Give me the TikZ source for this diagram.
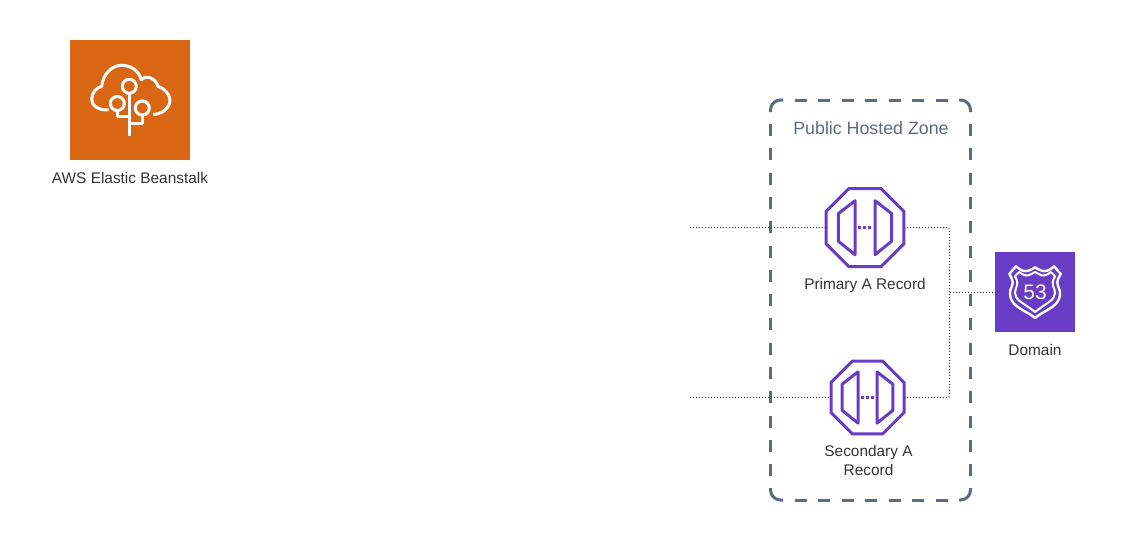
\documentclass[tikz,border=0pt]{standalone}
\usepackage{fontspec}
\setmainfont{Liberation Sans}
\usetikzlibrary{shapes.geometric}

\definecolor{beanorange}{HTML}{D86613}
\definecolor{routepurple}{HTML}{693CC5}
\definecolor{zoneslate}{HTML}{5A6B86}
\definecolor{labelgrey}{HTML}{333333}

\tikzset{
  iconbox/.style={rectangle,inner sep=0pt,outer sep=0pt,minimum size=#1},
  recordgon/.style={regular polygon,regular polygon sides=8,draw=routepurple,line width=3pt,
    inner sep=0pt,outer sep=0pt,minimum size=#1},
  zoneline/.style={draw=zoneslate,line width=3pt},
  caption/.style={text=labelgrey,font=\fontsize{15.4}{19}\selectfont,align=center,inner sep=0pt},
  dotline/.style={draw=labelgrey,line width=1pt,dash pattern=on 1pt off 2pt},
  whiteline/.style={draw=white,line width=3pt,line join=round},
  doorline/.style={draw=routepurple,line width=3pt,line join=round},
}

\newcommand{\recorddoors}[2]{
\begin{scope}[shift={(#1)},scale=#2]
\draw[doorline] (-10,-27) -- (-26.7,-14) -- (-26.7,13.5) -- (-10,27) -- cycle;
\draw[doorline] (10,-27) -- (26.7,-14) -- (26.7,13.5) -- (10,27) -- cycle;
\draw[doorline,dash pattern=on 3pt off 2pt] (-7,0) -- (7.5,0);
\end{scope}
}

\begin{document}
\begin{tikzpicture}[x=1pt,y=-1pt]
\useasboundingbox (0,0) rectangle (1146,541);

% zone
\draw[zoneline,rounded corners=10pt] (770.5,112) -- (770.5,100) -- (783,100);
\draw[zoneline,rounded corners=10pt] (959,100) -- (970.5,100) -- (970.5,112);
\draw[zoneline,rounded corners=10pt] (770.5,488) -- (770.5,500) -- (783,500);
\draw[zoneline,rounded corners=10pt] (959,500) -- (970.5,500) -- (970.5,488);
\foreach \y in {100,500} {
  \draw[zoneline,dash pattern=on 12pt off 11.5pt] (794.5,\y) -- (947.5,\y);
}
\foreach \x in {770.5,970.5} {
  \draw[zoneline,dash pattern=on 12pt off 12.3pt] (\x,124) -- (\x,476.3);
}
\node[text=zoneslate,font=\fontsize{17.8}{19}\selectfont,inner sep=0pt] (zonetitle) at (871,128.5) {Public Hosted Zone};

% beanstalk
\node[iconbox=120pt,fill=beanorange] (beanstalk) at (130,100) {};
\node[caption] (beanlabel) at (130,177.5) {AWS Elastic Beanstalk};
\draw[whiteline,line cap=butt]
(108.5,110) .. controls (98,110.5) and (91,105) .. (91.7,98.5)
.. controls (92,92) and (97,87.5) .. (101.7,86.3)
.. controls (103,74) and (112,65.3) .. (121.7,65.3)
.. controls (131,65.3) and (139,71) .. (141.3,79.7)
.. controls (147,74) and (156,79) .. (158,86.3)
.. controls (165,89) and (169.5,94) .. (170,99.7)
.. controls (170.3,107) and (163,114) .. (153.3,114.5);
\draw[whiteline] (129.3,86.3) circle(7);
\draw[whiteline] (117.3,103.5) circle(7);
\draw[whiteline] (142.3,108) circle(7);
\draw[whiteline] (129.3,93) -- (129.3,135.5);
\draw[whiteline] (117.3,110.5) -- (117.3,116.5) -- (129.3,116.5);
\draw[whiteline] (142.3,115) -- (142.3,123.5) -- (129.3,123.5);

% records
\node[recordgon=84.4pt] (primary) at (865,227.7) {};
\recorddoors{865,227.7}{1}
\node[caption] (primarylabel) at (865,285.5) {Primary A Record};

\node[recordgon=79pt] (secondary) at (867.5,397.5) {};
\recorddoors{867.5,397.5}{.95}
\node[caption] (secondarylabel) at (868.5,460.5) {Secondary A\\Record};

% domain
\node[iconbox=80pt,fill=routepurple] (domain) at (1035,292) {};
\node[caption] (domainlabel) at (1035,350) {Domain};
\begin{scope}[shift={(1035,292)}]
\draw[draw=white,line width=2.4pt,line join=round]
(-25.7,-18) -- (-19,-25.7) .. controls (-15,-21.5) and (-10,-20) .. (-6.7,-21.3)
.. controls (-4,-22) and (-2,-23.5) .. (0,-24.7)
.. controls (2,-23.5) and (4,-22) .. (6.7,-21.3)
.. controls (10,-20) and (15,-21.5) .. (19,-25.7) -- (25.7,-18)
.. controls (23.5,-14) and (22.3,-12) .. (22.3,-10)
.. controls (22.3,-6) and (25,-3) .. (25,1)
.. controls (25,6) and (23,10) .. (20,12.7)
.. controls (14,18) and (6,21) .. (0,26)
.. controls (-6,21) and (-14,18) .. (-20,12.7)
.. controls (-23,10) and (-25,6) .. (-25,1)
.. controls (-25,-3) and (-22.3,-6) .. (-22.3,-10)
.. controls (-22.3,-12) and (-23.5,-14) .. (-25.7,-18) -- cycle;
\draw[draw=white,line width=2pt,line join=round]
(-20,-15.7) -- (-15.7,-20) .. controls (-12.5,-17) and (-9,-16) .. (-6.7,-16.7)
.. controls (-4,-17.5) and (-2,-19) .. (0,-20)
.. controls (2,-19) and (4,-17.5) .. (6.7,-16.7)
.. controls (9,-16) and (12.5,-17) .. (15.7,-20) -- (20,-15.7)
.. controls (18.5,-13) and (17.7,-11) .. (17.7,-9)
.. controls (17.7,-5) and (20,-3) .. (20,1)
.. controls (20,4) and (18,7) .. (15,9.3)
.. controls (10,13) and (5,16) .. (0,20)
.. controls (-5,16) and (-10,13) .. (-15,9.3)
.. controls (-18,7) and (-20,4) .. (-20,1)
.. controls (-20,-3) and (-17.7,-5) .. (-17.7,-9)
.. controls (-17.7,-11) and (-18.5,-13) .. (-20,-15.7) -- cycle;
\end{scope}
\node[text=white,font=\fontsize{21}{21}\selectfont,inner sep=0pt] (routenum) at (1035,292.5) {53};

% connectors
\coordinate (primaryfree) at (690,227.7);
\coordinate (secondaryfree) at (690,397.5);
\coordinate (junction) at (949.5,292);
\draw[dotline] (primaryfree) -- (primary);
\draw[dotline] (secondaryfree) -- (secondary);
\draw[dotline,rounded corners=2pt] (primary) -| (junction);
\draw[dotline,rounded corners=2pt] (secondary) -| (junction);
\draw[dotline] (junction) -- (domain);

\end{tikzpicture}
\end{document}
